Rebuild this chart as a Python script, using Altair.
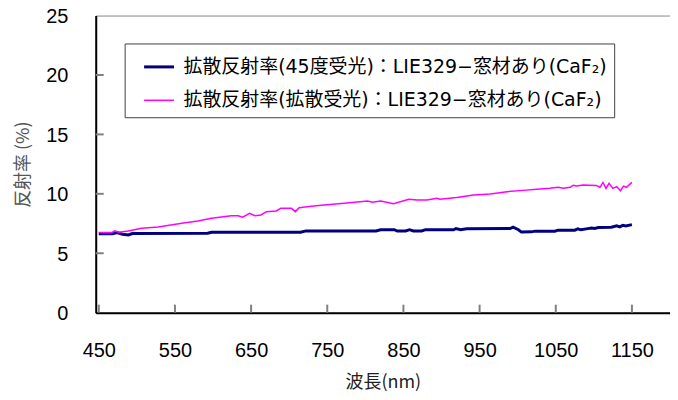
import altair as alt
import pandas as pd

# ---- data ----
series_names = [
    "拡散反射率(45度受光)：LIE329−窓材あり(CaF₂)",
    "拡散反射率(拡散受光)：LIE329−窓材あり(CaF₂)",
]
series_colors = ["#000080", "#FF00FF"]
series_widths = [3.0, 1.5]

blue_wl = [450, 468, 474, 481, 489, 494, 593, 598, 715, 722, 814, 820, 838, 842,
           853, 858, 863, 874, 879, 916, 919, 925, 933, 990, 994, 1001, 1005,
           1018, 1023, 1049, 1053, 1075, 1079, 1083, 1090, 1097, 1101, 1106,
           1123, 1130, 1134, 1138, 1142, 1150]
blue_val = [6.63, 6.63, 6.74, 6.60, 6.54, 6.66, 6.68, 6.77, 6.77, 6.88, 6.88,
            6.98, 6.98, 6.87, 6.87, 6.98, 6.87, 6.87, 6.98, 6.98, 7.08, 6.98,
            7.06, 7.08, 7.19, 6.98, 6.78, 6.80, 6.86, 6.86, 6.94, 6.94, 7.05,
            6.97, 7.05, 7.13, 7.08, 7.16, 7.19, 7.30, 7.22, 7.35, 7.30, 7.41]

pink_wl = [450, 467, 471, 476, 489, 506, 528, 559, 580, 598, 624, 633, 639, 648,
           655, 663, 670, 683, 689, 703, 708, 713, 729, 746, 772, 803, 809, 820,
           837, 857, 868, 881, 894, 898, 920, 942, 964, 986, 1007, 1025, 1042,
           1053, 1060, 1069, 1073, 1077, 1086, 1103, 1108, 1112, 1116, 1120,
           1125, 1130, 1135, 1139, 1143, 1150]
pink_val = [6.74, 6.74, 6.88, 6.77, 6.88, 7.10, 7.21, 7.52, 7.72, 7.94, 8.16,
            8.16, 8.03, 8.36, 8.16, 8.22, 8.50, 8.56, 8.78, 8.78, 8.50, 8.83,
            8.95, 9.06, 9.20, 9.40, 9.29, 9.40, 9.17, 9.54, 9.48, 9.48, 9.62,
            9.54, 9.70, 9.90, 9.98, 10.18, 10.29, 10.38, 10.46, 10.55, 10.46,
            10.55, 10.71, 10.65, 10.74, 10.71, 10.55, 10.96, 10.46, 10.88,
            10.46, 10.60, 10.26, 10.65, 10.55, 10.96]

x_ticks = [450, 550, 650, 750, 850, 950, 1050, 1150]
y_ticks = [0, 5, 10, 15, 20, 25]
y_inner_ticks = [5, 10, 15, 20]

x_title = "波長(nm)"
y_title = "反射率 (%)"

# ---- tables ----
df = pd.concat([
    pd.DataFrame({"wl": blue_wl, "val": blue_val, "series": series_names[0], "order": 0}),
    pd.DataFrame({"wl": pink_wl, "val": pink_val, "series": series_names[1], "order": 1}),
])
xt_df = pd.DataFrame({"wl": x_ticks})
yt_df = pd.DataFrame({"val": y_inner_ticks})

W, H = 576, 298
JP = "Noto Sans CJK JP"
NUM = "Liberation Sans"
LEG = "DejaVu Sans, Noto Sans CJK JP"

xscale = alt.Scale(domain=[446, 1200], nice=False, zero=False)
yscale = alt.Scale(domain=[0, 25], nice=False)

lines = alt.Chart(df).mark_line(interpolate="linear").encode(
    x=alt.X("wl:Q", scale=xscale, axis=alt.Axis(
        values=x_ticks, format="d", title=x_title, grid=False, tickSize=0,
        domainColor="#000000", domainWidth=2,
        labelFont=NUM, labelFontSize=20, labelColor="#000000", labelPadding=28,
        labelFlush=False,
        titleFont=JP, titleFontSize=18, titleFontWeight="normal", titleColor="#222222",
        titleX=W / 2, titleY=70, titleBaseline="middle", titleAlign="center",
    )),
    y=alt.Y("val:Q", scale=yscale, axis=alt.Axis(
        values=y_ticks, format="d", title=y_title, grid=False, tickSize=0,
        domainColor="#000000", domainWidth=2,
        labelFont=NUM, labelFontSize=20, labelColor="#000000", labelPadding=28,
        labelFlush=False, labelOffset=1,
        titleFont=JP, titleFontSize=18, titleFontWeight="normal", titleColor="#555555",
        titleX=-72, titleY=H / 2, titleBaseline="middle", titleAlign="center", titleAngle=-90,
    )),
    color=alt.Color("series:N", title=None,
                    scale=alt.Scale(domain=series_names, range=series_colors),
                    legend=alt.Legend(
                        orient="none", legendX=29, legendY=28,
                        symbolType="stroke", symbolSize=900, symbolStrokeWidth=2,
                        symbolOffset=11,
                        labelFont=LEG, labelFontSize=19, labelColor="#000000",
                        labelLimit=0, labelOffset=8,
                        padding=7, rowPadding=7,
                        strokeColor="#404040", fillColor="#FFFFFF",
                    )),
    strokeWidth=alt.StrokeWidth("series:N", title=None,
                                scale=alt.Scale(domain=series_names, range=series_widths),
                                legend=None),
    order="order:Q",
)

xticks_layer = alt.Chart(xt_df).mark_rule(color="#808080", strokeWidth=2).encode(
    x=alt.X("wl:Q", scale=xscale),
    y=alt.value(H),
    y2=alt.value(H - 8),
)
yticks_layer = alt.Chart(yt_df).mark_rule(color="#808080", strokeWidth=2).encode(
    y=alt.Y("val:Q", scale=yscale),
    x=alt.value(0),
    x2=alt.value(8),
)

chart = alt.layer(xticks_layer, yticks_layer, lines).properties(
    width=W, height=H,
    autosize=alt.AutoSizeParams(type="none"),
    padding={"left": 88, "top": 7, "right": 0, "bottom": 79},
    background="#FFFFFF",
).configure_view(
    stroke="#888888", strokeWidth=1
)

chart.save("out.html", embed_options={"renderer": "svg", "actions": False})
